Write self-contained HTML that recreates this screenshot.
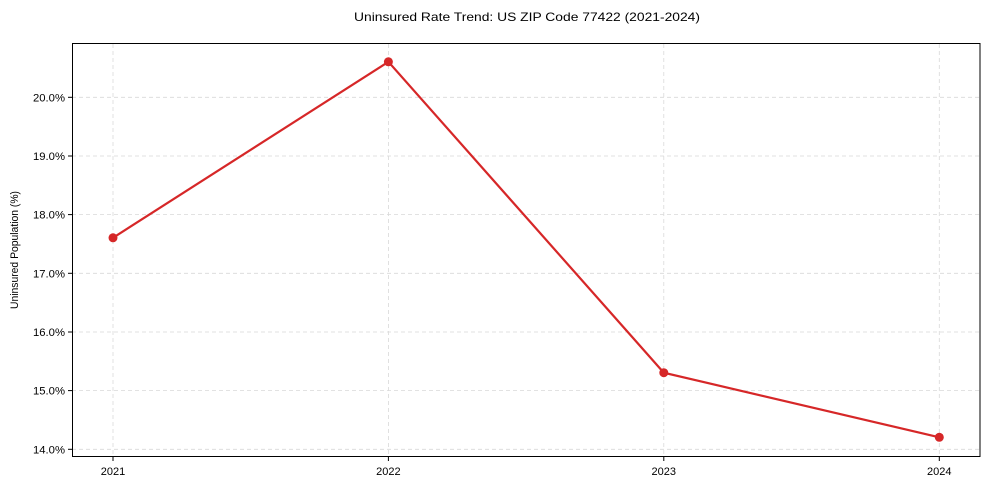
<!DOCTYPE html>
<html><head><meta charset="utf-8"><style>body{margin:0;background:#fff}svg text{font-family:"Liberation Sans",Arial,sans-serif;fill:#000}</style></head>
<body><svg width="989" height="490" viewBox="0 0 989 490" xmlns="http://www.w3.org/2000/svg">
<rect width="989" height="490" fill="#fff"/>
<text x="527" y="21" font-size="12" text-anchor="middle" textLength="346" lengthAdjust="spacingAndGlyphs">Uninsured Rate Trend: US ZIP Code 77422 (2021-2024)</text>
<g stroke="#d9d9d9" stroke-width="0.8" stroke-dasharray="4,3">
<line x1="113" y1="44" x2="113" y2="456"/><line x1="388.4" y1="44" x2="388.4" y2="456"/><line x1="663.8" y1="44" x2="663.8" y2="456"/><line x1="939.3" y1="44" x2="939.3" y2="456"/>
<line x1="72" y1="97.3" x2="980" y2="97.3"/><line x1="72" y1="156" x2="980" y2="156"/><line x1="72" y1="214.6" x2="980" y2="214.6"/><line x1="72" y1="273.3" x2="980" y2="273.3"/><line x1="72" y1="332" x2="980" y2="332"/><line x1="72" y1="390.6" x2="980" y2="390.6"/><line x1="72" y1="449.3" x2="980" y2="449.3"/>
</g>
<rect x="72.5" y="43.5" width="907.5" height="413" fill="none" stroke="#000" stroke-width="1"/>
<g stroke="#000" stroke-width="1">
<line x1="68" y1="97.3" x2="72" y2="97.3"/><line x1="68" y1="156" x2="72" y2="156"/><line x1="68" y1="214.6" x2="72" y2="214.6"/><line x1="68" y1="273.3" x2="72" y2="273.3"/><line x1="68" y1="332" x2="72" y2="332"/><line x1="68" y1="390.6" x2="72" y2="390.6"/><line x1="68" y1="449.3" x2="72" y2="449.3"/>
<line x1="113" y1="457" x2="113" y2="461"/><line x1="388.4" y1="457" x2="388.4" y2="461"/><line x1="663.8" y1="457" x2="663.8" y2="461"/><line x1="939.3" y1="457" x2="939.3" y2="461"/>
</g>
<g font-size="11" text-anchor="end">
<text x="65" y="101.3" textLength="32" lengthAdjust="spacingAndGlyphs">20.0%</text>
<text x="65" y="160" textLength="32" lengthAdjust="spacingAndGlyphs">19.0%</text>
<text x="65" y="218.6" textLength="32" lengthAdjust="spacingAndGlyphs">18.0%</text>
<text x="65" y="277.3" textLength="32" lengthAdjust="spacingAndGlyphs">17.0%</text>
<text x="65" y="336" textLength="32" lengthAdjust="spacingAndGlyphs">16.0%</text>
<text x="65" y="394.6" textLength="32" lengthAdjust="spacingAndGlyphs">15.0%</text>
<text x="65" y="453.3" textLength="32" lengthAdjust="spacingAndGlyphs">14.0%</text>
</g>
<g font-size="11" text-anchor="middle">
<text x="113" y="475">2021</text><text x="388.4" y="475">2022</text><text x="663.8" y="475">2023</text><text x="939.3" y="475">2024</text>
</g>
<text transform="translate(18,250) rotate(-90)" font-size="11" text-anchor="middle" textLength="118" lengthAdjust="spacingAndGlyphs">Uninsured Population (%)</text>
<polyline points="113,237.8 388.4,61.8 663.8,372.7 939.3,437.3" fill="none" stroke="#d62728" stroke-width="2.2"/>
<g fill="#d62728"><circle cx="113" cy="237.8" r="4.5"/><circle cx="388.4" cy="61.8" r="4.5"/><circle cx="663.8" cy="372.7" r="4.5"/><circle cx="939.3" cy="437.3" r="4.5"/></g>
</svg></body></html>
